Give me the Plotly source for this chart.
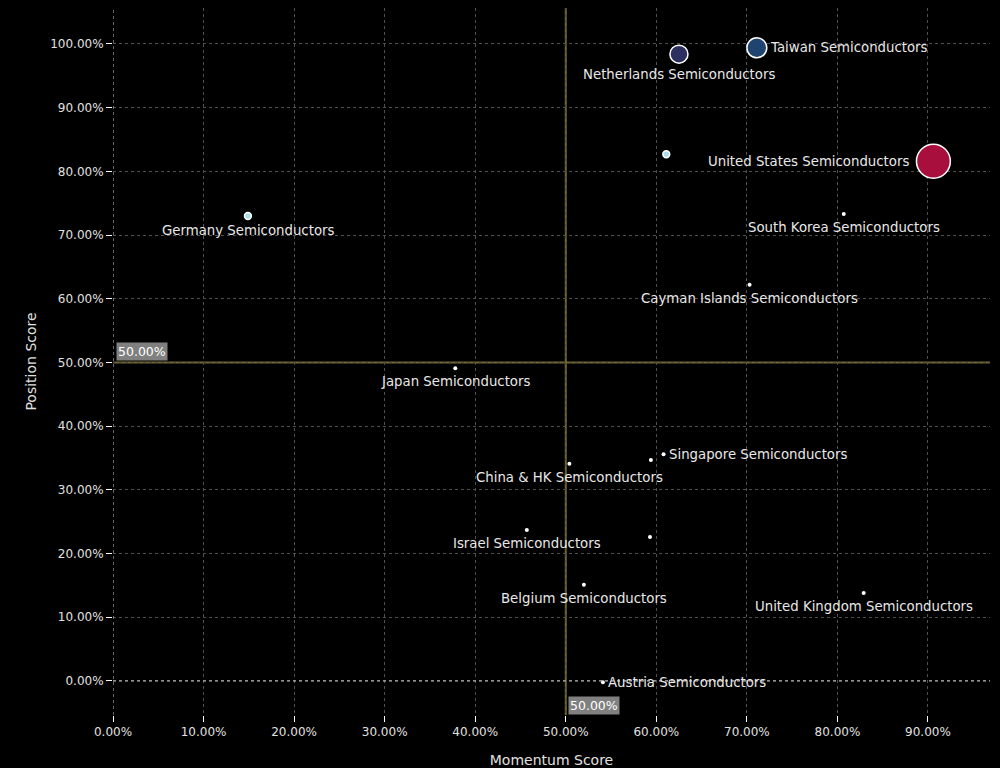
import plotly.graph_objects as go

# data
names = [
    "Taiwan Semiconductors", "Netherlands Semiconductors", "United States Semiconductors",
    "", "Germany Semiconductors", "South Korea Semiconductors",
    "Cayman Islands Semiconductors", "Japan Semiconductors", "Singapore Semiconductors",
    "", "China & HK Semiconductors", "Israel Semiconductors", "",
    "Belgium Semiconductors", "United Kingdom Semiconductors", "Austria Semiconductors",
]
momentum = [0.711, 0.625, 0.906, 0.611, 0.149, 0.807, 0.703, 0.378, 0.608,
            0.594, 0.504, 0.457, 0.593, 0.520, 0.829, 0.541]
position = [0.994, 0.984, 0.816, 0.827, 0.730, 0.733, 0.622, 0.491, 0.356,
            0.347, 0.341, 0.237, 0.226, 0.151, 0.138, -0.002]
weight = [10.0, 8.2, 29.0, 1.2, 1.2, 0.4, 0.4, 0.4, 0.4,
          0.4, 0.4, 0.4, 0.4, 0.4, 0.4, 0.4]

# styling
colors = ["#1f4470", "#2c2f5f", "#a90f3c", "#a9dde9", "#a9dde9"] + ["#ffffff"] * 11
label_side = ["right", "below", "left", "below", "below", "below", "below", "below",
              "right", "below", "below", "below", "below", "below", "below", "right"]
sizes = [max(4, 6.3 * w ** 0.5) for w in weight]
line_w = [1.5 if w > 1 else 0 for w in weight]

FONT = "DejaVu Sans"
OLIVE = "#75692c"

fig = go.Figure()
fig.add_trace(
    go.Scatter(
        x=momentum,
        y=position,
        mode="markers",
        marker=dict(size=sizes, color=colors, opacity=1,
                    line=dict(color="#ffffff", width=line_w)),
        showlegend=False,
        hoverinfo="skip",
    )
)

# point labels as annotations so the offsets can be tuned
labels = []
for name, x, y, s, side in zip(names, momentum, position, sizes, label_side):
    if not name:
        continue
    r = s / 2
    a = dict(x=x, y=y, xref="x", yref="y", text=name, showarrow=False,
             font=dict(family=FONT, size=13.3, color="#e8e8e8"))
    if side == "below":
        a.update(xanchor="center", yanchor="top", yshift=-(r + 2))
    elif side == "right":
        a.update(xanchor="left", yanchor="middle", xshift=r + 1)
    else:
        a.update(xanchor="right", yanchor="middle", xshift=-(r + 5))
    labels.append(a)

x_range = [0, 0.9685]
y_range = [-0.0534, 1.0565]

fig.update_layout(
    width=1000,
    height=768,
    paper_bgcolor="#000000",
    plot_bgcolor="#000000",
    margin=dict(l=113, r=10, t=8, b=53, autoexpand=False),
    font=dict(family=FONT, size=12, color="#e0e0e0"),
    xaxis=dict(
        range=x_range,
        automargin=False,
        tickformat=".2%",
        dtick=0.1,
        showgrid=True,
        gridcolor="#505050",
        griddash="3px,3px",
        zeroline=False,
        showline=False,
        ticks="outside",
        ticklen=6,
        tickcolor="#ffffff",
        title=dict(text="Momentum Score", standoff=22),
    ),
    yaxis=dict(
        range=y_range,
        automargin=False,
        tickformat=".2%",
        dtick=0.1,
        showgrid=True,
        gridcolor="#505050",
        griddash="3px,3px",
        zeroline=False,
        showline=False,
        ticks="outside",
        ticklen=6,
        tickcolor="#ffffff",
        title=dict(text="Position Score", standoff=10),
    ),
    shapes=[
        dict(type="line", xref="x", yref="paper", x0=0, x1=0, y0=0, y1=1,
             line=dict(color="#cccccc", width=1, dash="dot")),
        dict(type="line", xref="paper", yref="y", x0=0, x1=1, y0=0, y1=0,
             line=dict(color="#cccccc", width=1, dash="dot")),
        dict(type="line", xref="x", yref="paper", x0=0.5, x1=0.5, y0=0, y1=1,
             line=dict(color=OLIVE, width=2), layer="below"),
        dict(type="line", xref="paper", yref="y", x0=0, x1=1, y0=0.5, y1=0.5,
             line=dict(color=OLIVE, width=2), layer="below"),
    ],
    annotations=labels + [
        dict(xref="paper", yref="y", x=0.003, y=0.5, xanchor="left", yanchor="bottom",
             text="50.00%", showarrow=False, bgcolor="#808080", borderpad=1,
             font=dict(family=FONT, size=12.5, color="#ffffff"), yshift=1),
        dict(xref="x", yref="paper", x=0.5, y=0.0, xanchor="left", yanchor="bottom",
             text="50.00%", showarrow=False, bgcolor="#808080", borderpad=1,
             font=dict(family=FONT, size=12.5, color="#ffffff"), xshift=2),
    ],
)

fig.write_html(
    "out.html",
    config={"displayModeBar": False},
    post_script="document.body.style.margin='0';document.body.style.overflow='hidden';",
)
